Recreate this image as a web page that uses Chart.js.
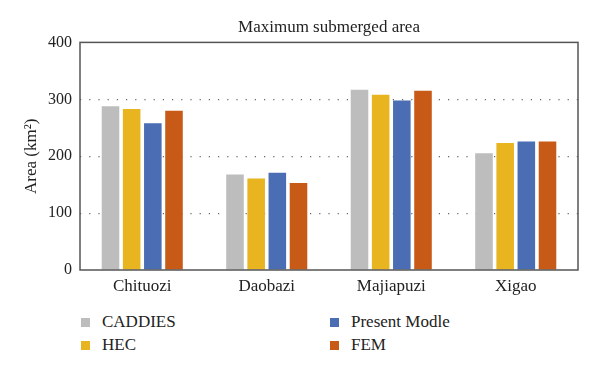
<!DOCTYPE html>
<html>
<head>
<meta charset="utf-8">
<script src="https://cdn.jsdelivr.net/npm/chart.js@4"></script>
<style>
body{margin:0;background:#fff;}
#wrap{position:relative;width:600px;height:372px;background:#fff;}
#chartBox{position:absolute;left:0;top:0;width:600px;height:300px;}
.legend{position:absolute;font-family:"Liberation Serif",serif;font-size:17px;color:#222;}
.legend .item{position:absolute;white-space:nowrap;line-height:20px;}
.legend .sw{position:absolute;width:9px;height:9px;top:6px;}
.legend .lbl{position:absolute;left:21px;top:0;}
</style>
</head>
<body>
<div id="wrap">
<div id="chartBox"><canvas id="chart"></canvas></div>
<div class="legend" id="legend"></div>
</div>
<script>

const sites = ["Chituozi", "Daobazi", "Majiapuzi", "Xigao"]

const caddies = [288, 168, 317, 205]
const hec = [283, 161, 308, 223]
const presentModle = [258, 171, 298, 226]
const fem = [280, 153, 315, 226]

const seriesNames = ["CADDIES", "HEC", "Present Modle", "FEM"]
const seriesColors = ["#BDBDBD", "#E8B41F", "#4A6DB3", "#C85A17"]

const yTicks = [0, 100, 200, 300, 400]

const font = "'Liberation Serif', 'Times New Roman', serif"

// frame round the plot area
const frame = {
id: "frame",
afterDraw(chart){
const a = chart.chartArea
const ctx = chart.ctx
ctx.save()
ctx.strokeStyle = "#555"
ctx.lineWidth = 1.5
ctx.strokeRect(a.left, a.top, a.right - a.left, a.bottom - a.top)
ctx.restore()
}
}

const values = [caddies, hec, presentModle, fem]

const ctx = document.getElementById("chart").getContext("2d")

new Chart(ctx, {
type: "bar",
data: {
labels: sites,
datasets: seriesNames.map((name, i) => ({
label: name,
data: values[i],
backgroundColor: seriesColors[i],
categoryPercentage: 0.68,
barPercentage: 0.83
}))
},
options: {
responsive: true,
maintainAspectRatio: false,
animation: false,
layout: { padding: { left: 0, right: 22, top: 0, bottom: 0 } },
plugins: {
legend: { display: false },
tooltip: { enabled: false },
title: {
display: true,
fullSize: false,
text: "Maximum submerged area",
color: "#222",
font: { family: font, size: 17, weight: "normal" },
padding: { top: 17, bottom: 5 }
}
},
scales: {
x: {
grid: { display: false, drawTicks: false },
border: { display: false },
ticks: { color: "#222", font: { family: font, size: 17 }, padding: 6 },
afterFit(scale){ scale.height = 30 }
},
y: {
min: 0,
max: 400,
afterBuildTicks(scale){ scale.ticks = yTicks.map(v => ({ value: v })) },
grid: {
drawTicks: false,
color: c => (c.tick.value === 0 || c.tick.value === 400) ? "rgba(0,0,0,0)" : "#666",
lineWidth: 1.2
},
border: { display: false, dash: [1.2, 8] },
ticks: { color: "#222", font: { family: font, size: 16 }, padding: 8 },
title: {
display: true,
text: "Area (km²)",
color: "#222",
font: { family: font, size: 17 },
padding: { top: 21, bottom: 0 }
},
afterFit(scale){ scale.width = 80 }
}
}
},
plugins: [frame]
})

// legend in two columns
const legend = document.getElementById("legend")
const spots = [[81, 312], [81, 335], [330, 312], [330, 335]]
seriesNames.forEach((name, i) => {
const item = document.createElement("div")
item.className = "item"
item.style.left = spots[i][0] + "px"
item.style.top = spots[i][1] + "px"
item.innerHTML = '<span class="sw" style="background:' + seriesColors[i] + '"></span><span class="lbl">' + name + '</span>'
legend.appendChild(item)
})

</script>
</body>
</html>
